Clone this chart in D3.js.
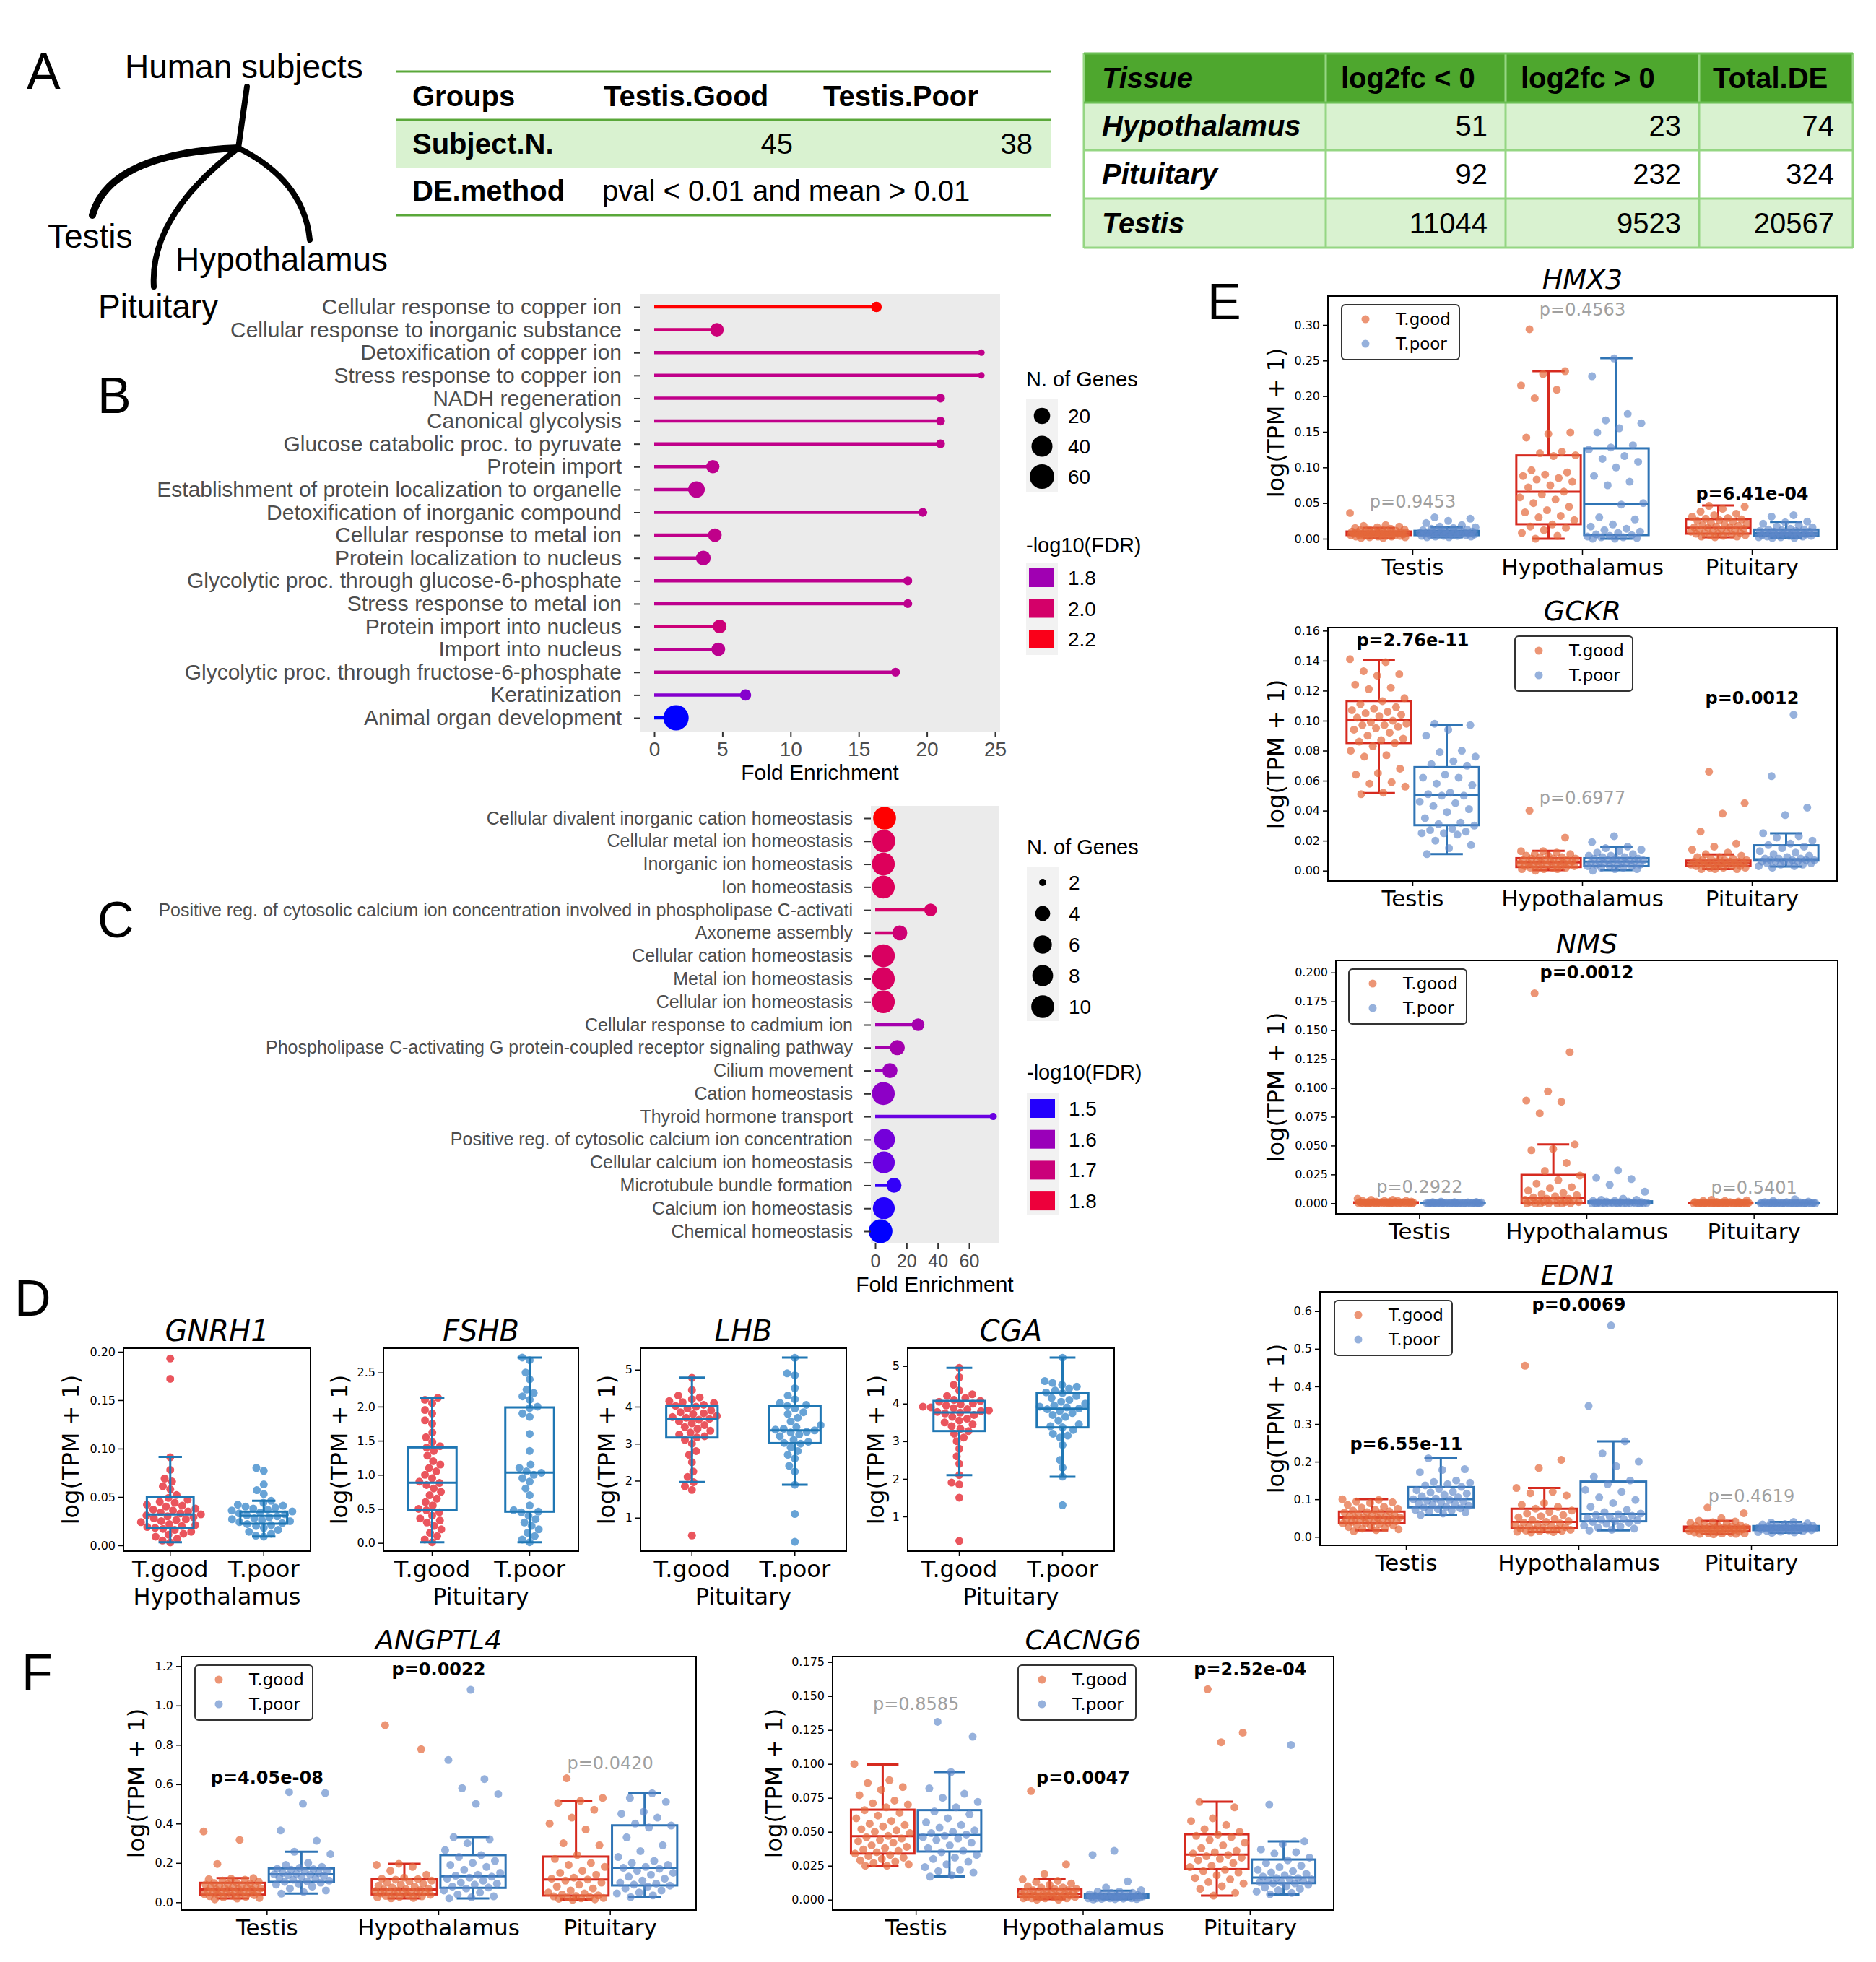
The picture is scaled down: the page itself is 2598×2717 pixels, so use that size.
<!DOCTYPE html>
<html>
<head>
<meta charset="utf-8">
<script src="https://cdn.jsdelivr.net/npm/d3@7"></script>
<style>
body { margin: 0; background: #fff; }
</style>
</head>
<body>
<script>
// ---------- data ----------
var panelLetters = ["A", "B", "C", "D", "E", "F"];

// panel A
var treeNames = ["Human subjects", "Testis", "Hypothalamus", "Pituitary"];
var groupHead = ["Groups", "Testis.Good", "Testis.Poor"];
var subjectN = [45, 38];
var deMethod = "pval < 0.01 and mean > 0.01";
var deHead = ["Tissue", "log2fc < 0", "log2fc > 0", "Total.DE"];
var deTissues = ["Hypothalamus", "Pituitary", "Testis"];
var deDown = [51, 92, 11044];
var deUp = [23, 232, 9523];
var deTotal = [74, 324, 20567];

// panel B
var bTerms = ["Cellular response to copper ion", "Cellular response to inorganic substance",
  "Detoxification of copper ion", "Stress response to copper ion", "NADH regeneration",
  "Canonical glycolysis", "Glucose catabolic proc. to pyruvate", "Protein import",
  "Establishment of protein localization to organelle", "Detoxification of inorganic compound",
  "Cellular response to metal ion", "Protein localization to nucleus",
  "Glycolytic proc. through glucose-6-phosphate", "Stress response to metal ion",
  "Protein import into nucleus", "Import into nucleus",
  "Glycolytic proc. through fructose-6-phosphate", "Keratinization", "Animal organ development"];
var bFold = [16.3, 4.6, 24.0, 24.0, 21.0, 21.0, 21.0, 4.3, 3.1, 19.7, 4.45, 3.6, 18.6, 18.6, 4.8, 4.7, 17.7, 6.7, 1.6];
var bGenes = [6, 12, 3, 3, 4, 4, 4, 11, 21, 4, 12, 15, 4, 4, 12, 12, 4, 7, 65];
var bFdr = [2.23, 1.96, 1.91, 1.91, 1.91, 1.91, 1.91, 1.9, 1.89, 1.9, 1.91, 1.89, 1.9, 1.9, 1.96, 1.89, 1.89, 1.73, 1.6];
var bTicks = [0, 5, 10, 15, 20, 25];
var bSizeBreaks = [20, 40, 60];
var bFdrBreaks = [1.8, 2.0, 2.2];

// panel C
var cTerms = ["Cellular divalent inorganic cation homeostasis", "Cellular metal ion homeostasis",
  "Inorganic ion homeostasis", "Ion homeostasis",
  "Positive reg. of cytosolic calcium ion concentration involved in phospholipase C-activati",
  "Axoneme assembly", "Cellular cation homeostasis", "Metal ion homeostasis", "Cellular ion homeostasis",
  "Cellular response to cadmium ion",
  "Phospholipase C-activating G protein-coupled receptor signaling pathway", "Cilium movement",
  "Cation homeostasis", "Thyroid hormone transport", "Positive reg. of cytosolic calcium ion concentration",
  "Cellular calcium ion homeostasis", "Microtubule bundle formation", "Calcium ion homeostasis",
  "Chemical homeostasis"];
var cFold = [6.0, 5.5, 5.2, 5.2, 35.4, 15.7, 5.2, 5.2, 5.2, 27.4, 14.1, 9.4, 5.2, 75.5, 6.0, 5.5, 12.0, 5.5, 3.4];
var cGenes = [10, 10, 10, 10, 3, 4, 10, 10, 10, 3, 4, 4, 10, 2, 8, 9, 4, 9, 11];
var cFdr = [1.86, 1.75, 1.75, 1.75, 1.73, 1.71, 1.74, 1.74, 1.74, 1.62, 1.62, 1.6, 1.58, 1.54, 1.55, 1.54, 1.505, 1.5, 1.495];
var cTicks = [0, 20, 40, 60];
var cSizeBreaks = [2, 4, 6, 8, 10];
var cFdrBreaks = [1.5, 1.6, 1.7, 1.8];

// panel D  (box stats: [low whisker, q1, median, q3, high whisker])
var dGenes = ["GNRH1", "FSHB", "LHB", "CGA"];
var dTissue = ["Hypothalamus", "Pituitary", "Pituitary", "Pituitary"];
var dGroups = ["T.good", "T.poor"];
var dTicks = [[0, 0.05, 0.1, 0.15, 0.2], [0, 0.5, 1, 1.5, 2, 2.5], [1, 2, 3, 4, 5], [1, 2, 3, 4, 5]];
var dDomain = [[-0.006, 0.2037], [-0.12, 2.857], [0.097, 5.58], [0.078, 5.474]];
var dGood = [
  [0.193,0.172,0.091,0.078,0.069,0.066,0.061,0.058,0.052,0.049,0.047,0.045,0.044,0.042,0.041,0.040,0.038,0.037,0.036,0.035,0.034,0.033,0.032,0.031,0.030,0.029,0.028,0.027,0.026,0.025,0.024,0.022,0.021,0.020,0.019,0.018,0.017,0.016,0.014,0.012,0.011,0.009,0.007,0.005,0.003],
  [2.13,2.10,2.05,1.95,1.90,1.80,1.75,1.62,1.55,1.48,1.42,1.40,1.35,1.28,1.20,1.15,1.10,1.05,1.00,0.95,0.90,0.88,0.85,0.80,0.75,0.70,0.65,0.60,0.55,0.50,0.48,0.45,0.40,0.36,0.33,0.30,0.25,0.20,0.15,0.10,0.05,0.01],
  [4.78,4.45,4.30,4.25,4.20,4.15,4.12,4.10,4.05,4.02,4.00,3.95,3.90,3.85,3.82,3.80,3.75,3.72,3.70,3.67,3.65,3.60,3.55,3.50,3.45,3.40,3.35,3.30,3.25,3.20,3.17,3.10,3.00,2.80,2.70,2.50,2.25,2.10,1.96,1.85,1.75,0.52],
  [4.95,4.70,4.50,4.35,4.25,4.20,4.15,4.10,4.07,4.05,4.00,3.98,3.95,3.92,3.90,3.88,3.85,3.82,3.80,3.78,3.76,3.74,3.70,3.65,3.60,3.55,3.50,3.45,3.40,3.33,3.27,3.20,3.10,3.00,2.80,2.60,2.40,2.10,1.90,1.85,1.50,0.35]
];
var dPoor = [
  [0.080,0.077,0.063,0.057,0.053,0.046,0.044,0.042,0.041,0.040,0.039,0.038,0.037,0.036,0.035,0.034,0.033,0.032,0.031,0.030,0.029,0.028,0.027,0.026,0.025,0.024,0.023,0.022,0.021,0.020,0.018,0.016,0.014,0.012,0.010,0.009],
  [2.72,2.68,2.50,2.40,2.25,2.20,2.15,2.10,2.00,1.98,1.90,1.85,1.60,1.35,1.15,1.10,1.05,1.03,1.00,0.95,0.90,0.80,0.70,0.55,0.48,0.46,0.45,0.40,0.35,0.30,0.25,0.20,0.15,0.10,0.05,0.01],
  [5.32,4.90,4.85,4.50,4.30,4.20,4.10,4.05,4.02,3.95,3.85,3.80,3.70,3.60,3.50,3.45,3.40,3.38,3.36,3.32,3.30,3.25,3.20,3.10,3.05,3.02,3.00,2.90,2.80,2.70,2.60,2.40,2.25,1.89,1.10,0.35],
  [5.22,4.60,4.55,4.50,4.45,4.40,4.35,4.30,4.28,4.20,4.15,4.10,4.05,4.00,3.95,3.92,3.90,3.87,3.85,3.80,3.75,3.70,3.65,3.55,3.45,3.40,3.37,3.30,3.20,3.15,3.10,2.90,2.50,2.30,2.06,1.30]
];
var dBoxGood = [[0.0032,0.0179,0.0318,0.0497,0.0914], [0.011,0.487,0.883,1.402,2.126], [1.963,3.166,3.667,4.02,4.785], [2.10,3.272,3.765,4.072,4.949]];
var dBoxPoor = [[0.0092,0.0224,0.0303,0.0348,0.046], [0.011,0.459,1.031,1.988,2.72], [1.891,3.016,3.361,4.02,5.325], [2.056,3.368,3.867,4.283,5.224]];

// panels E and F: per tissue, T.good and T.poor
var tissues = ["Testis", "Hypothalamus", "Pituitary"];

var hmx3Good = [
  [0.036,0.019,0.018,0.017,0.016,0.015,0.014,0.013,0.013,0.012,0.012,0.011,0.011,0.010,0.010,0.010,0.009,0.009,0.009,0.008,0.008,0.008,0.008,0.007,0.007,0.007,0.007,0.006,0.006,0.006,0.006,0.005,0.005,0.005,0.005,0.004,0.004,0.004,0.003,0.003,0.003,0.002,0.002,0.001,0.001],
  [0.294,0.235,0.231,0.215,0.209,0.197,0.149,0.147,0.142,0.122,0.120,0.117,0.116,0.096,0.093,0.090,0.088,0.085,0.083,0.080,0.075,0.072,0.066,0.062,0.058,0.055,0.050,0.045,0.040,0.037,0.032,0.030,0.026,0.020,0.017,0.015,0.012,0.008,0.004,0.000],
  [0.046,0.045,0.042,0.038,0.035,0.033,0.031,0.029,0.028,0.027,0.026,0.025,0.024,0.022,0.021,0.020,0.019,0.018,0.017,0.016,0.016,0.015,0.014,0.013,0.012,0.011,0.010,0.010,0.009,0.008,0.008,0.007,0.007,0.006,0.005,0.005,0.004,0.003,0.003,0.002]
];
var hmx3Poor = [
  [0.030,0.028,0.025,0.022,0.019,0.017,0.016,0.015,0.014,0.013,0.012,0.012,0.011,0.011,0.010,0.010,0.009,0.009,0.009,0.008,0.008,0.008,0.007,0.007,0.007,0.006,0.006,0.006,0.005,0.005,0.005,0.004,0.004,0.004,0.003,0.003,0.002,0.002],
  [0.253,0.228,0.175,0.166,0.162,0.155,0.149,0.131,0.128,0.125,0.116,0.112,0.108,0.100,0.088,0.080,0.075,0.050,0.048,0.030,0.027,0.020,0.017,0.014,0.012,0.010,0.008,0.006,0.005,0.004,0.003,0.002,0.002,0.001,0.000,0.000],
  [0.033,0.031,0.024,0.023,0.021,0.019,0.017,0.016,0.014,0.013,0.013,0.012,0.011,0.011,0.010,0.010,0.009,0.009,0.008,0.008,0.008,0.007,0.007,0.006,0.006,0.005,0.005,0.005,0.004,0.004,0.003,0.003,0.002,0.002,0.001,0.001]
];
var hmx3BoxGood = [[0.001,0.0051,0.0074,0.0101,0.0152], [0.0,0.0203,0.0659,0.1169,0.235], [0.002,0.0071,0.0155,0.0274,0.0466]];
var hmx3BoxPoor = [[0.002,0.005,0.0084,0.011,0.016], [0.0,0.0051,0.0483,0.1267,0.2534], [0.001,0.0044,0.0078,0.0128,0.0236]];
var hmx3P = ["p=0.9453", "p=0.4563", "p=6.41e-04"];
var hmx3Sig = [0, 0, 1];
var hmx3PY = [0.0435, 0.313, 0.055];
var hmx3Ticks = [0, 0.05, 0.1, 0.15, 0.2, 0.25, 0.3];
var hmx3Domain = [-0.0152, 0.3405];

var gckrGood = [
  [0.141,0.139,0.133,0.131,0.130,0.124,0.122,0.121,0.115,0.113,0.111,0.109,0.108,0.107,0.106,0.105,0.104,0.103,0.102,0.100,0.099,0.098,0.097,0.097,0.096,0.095,0.094,0.092,0.090,0.088,0.087,0.086,0.085,0.083,0.080,0.077,0.076,0.068,0.065,0.064,0.059,0.058,0.056,0.052,0.051],
  [0.040,0.022,0.013,0.013,0.012,0.011,0.011,0.010,0.010,0.009,0.009,0.008,0.008,0.008,0.007,0.007,0.007,0.006,0.006,0.006,0.006,0.005,0.005,0.005,0.005,0.004,0.004,0.004,0.004,0.003,0.003,0.003,0.003,0.002,0.002,0.002,0.001,0.001,0.001,0.000],
  [0.066,0.045,0.038,0.026,0.018,0.016,0.014,0.012,0.011,0.010,0.009,0.009,0.008,0.008,0.007,0.007,0.007,0.006,0.006,0.006,0.006,0.005,0.005,0.005,0.005,0.005,0.004,0.004,0.004,0.004,0.003,0.003,0.003,0.003,0.002,0.002,0.002,0.001,0.001,0.001]
];
var gckrPoor = [
  [0.098,0.097,0.094,0.090,0.080,0.079,0.076,0.073,0.071,0.070,0.064,0.062,0.062,0.058,0.057,0.052,0.051,0.050,0.050,0.046,0.045,0.043,0.041,0.039,0.035,0.032,0.031,0.030,0.028,0.027,0.026,0.025,0.025,0.024,0.020,0.017,0.015,0.011],
  [0.023,0.019,0.016,0.015,0.014,0.013,0.012,0.011,0.010,0.010,0.009,0.009,0.008,0.008,0.008,0.007,0.007,0.007,0.006,0.006,0.006,0.006,0.005,0.005,0.005,0.004,0.004,0.004,0.003,0.003,0.003,0.002,0.002,0.001,0.001,0.000],
  [0.104,0.063,0.042,0.037,0.025,0.023,0.022,0.020,0.018,0.017,0.016,0.015,0.013,0.012,0.011,0.010,0.009,0.008,0.008,0.008,0.007,0.007,0.007,0.007,0.006,0.006,0.006,0.006,0.005,0.005,0.005,0.004,0.004,0.003,0.003,0.002]
];
var gckrBoxGood = [[0.0517,0.0851,0.1003,0.1131,0.1403], [0.0003,0.0024,0.0055,0.0083,0.0132], [0.0011,0.0032,0.0051,0.0067,0.0108]];
var gckrBoxPoor = [[0.011,0.0303,0.0506,0.069,0.0973], [0.0003,0.003,0.006,0.0083,0.0156], [0.0027,0.0067,0.0075,0.0169,0.0249]];
var gckrP = ["p=2.76e-11", "p=0.6977", "p=0.0012"];
var gckrSig = [1, 0, 1];
var gckrPY = [0.1496, 0.0446, 0.111];
var gckrTicks = [0, 0.02, 0.04, 0.06, 0.08, 0.1, 0.12, 0.14, 0.16];
var gckrDomain = [-0.0069, 0.1621];

var nmsGood = [
  [0.004,0.003,0.003,0.002,0.002,0.002,0.002,0.0015,0.0015,0.0013,0.0012,0.001,0.001,0.001,0.001,0.0009,0.0008,0.0008,0.0007,0.0007,0.0006,0.0006,0.0005,0.0005,0.0005,0.0004,0.0004,0.0004,0.0003,0.0003,0.0003,0.0002,0.0002,0.0002,0.0002,0.0001,0.0001,0.0001,0.0001,0,0,0,0,0,0],
  [0.182,0.131,0.097,0.089,0.088,0.078,0.051,0.047,0.046,0.035,0.028,0.024,0.020,0.017,0.014,0.013,0.011,0.009,0.008,0.007,0.006,0.005,0.004,0.004,0.003,0.003,0.002,0.002,0.002,0.001,0.001,0.001,0.001,0,0,0,0,0,0,0],
  [0.003,0.0025,0.002,0.002,0.0015,0.0012,0.001,0.001,0.0008,0.0007,0.0006,0.0005,0.0005,0.0004,0.0004,0.0003,0.0003,0.0003,0.0002,0.0002,0.0002,0.0001,0.0001,0.0001,0,0,0,0,0,0,0,0,0,0,0,0,0,0,0,0]
];
var nmsPoor = [
  [0.0015,0.0012,0.001,0.001,0.0008,0.0007,0.0006,0.0005,0.0005,0.0004,0.0004,0.0003,0.0003,0.0003,0.0002,0.0002,0.0002,0.0002,0.0001,0.0001,0.0001,0.0001,0.0001,0,0,0,0,0,0,0,0,0,0,0,0,0,0,0],
  [0.0285,0.022,0.021,0.016,0.010,0.004,0.003,0.003,0.002,0.002,0.0015,0.0015,0.001,0.001,0.001,0.0008,0.0006,0.0005,0.0005,0.0004,0.0003,0.0003,0.0002,0.0002,0.0001,0.0001,0,0,0,0,0,0,0,0,0,0],
  [0.0035,0.002,0.0015,0.001,0.001,0.0008,0.0006,0.0005,0.0004,0.0003,0.0003,0.0002,0.0002,0.0001,0.0001,0.0001,0,0,0,0,0,0,0,0,0,0,0,0,0,0,0,0,0,0,0,0]
];
var nmsBoxGood = [[0,0,0.0003,0.0008,0.0015], [0,0,0.0042,0.0246,0.0511], [0,0,0,0.0003,0.0008]];
var nmsBoxPoor = [[0,0,0,0.0002,0.0005], [0,0,0.0005,0.0017,0.002], [0,0,0,0.0002,0.0005]];
var nmsP = ["p=0.2922", "p=0.0012", "p=0.5401"];
var nmsSig = [0, 1, 0];
var nmsPY = [0.0088, 0.1948, 0.0081];
var nmsTicks = [0, 0.025, 0.05, 0.075, 0.1, 0.125, 0.15, 0.175, 0.2];
var nmsDomain = [-0.0092, 0.2105];

var edn1Good = [
  [0.100,0.098,0.094,0.092,0.090,0.085,0.080,0.078,0.075,0.072,0.070,0.068,0.066,0.065,0.063,0.061,0.059,0.058,0.056,0.055,0.053,0.052,0.051,0.050,0.049,0.048,0.046,0.045,0.044,0.042,0.041,0.040,0.038,0.037,0.036,0.034,0.032,0.030,0.028,0.026,0.024,0.022,0.020,0.018,0.015],
  [0.455,0.205,0.183,0.130,0.120,0.116,0.110,0.090,0.085,0.080,0.075,0.070,0.066,0.062,0.058,0.055,0.052,0.048,0.045,0.042,0.040,0.038,0.036,0.034,0.032,0.030,0.028,0.026,0.024,0.022,0.021,0.020,0.019,0.018,0.017,0.016,0.015,0.014,0.013,0.012],
  [0.078,0.063,0.050,0.043,0.041,0.039,0.037,0.035,0.033,0.031,0.030,0.029,0.028,0.027,0.026,0.025,0.024,0.024,0.023,0.022,0.022,0.021,0.020,0.019,0.019,0.018,0.017,0.016,0.016,0.015,0.014,0.013,0.012,0.011,0.010,0.009,0.009,0.008,0.008,0.007]
];
var edn1Poor = [
  [0.209,0.180,0.178,0.172,0.150,0.146,0.144,0.140,0.137,0.133,0.128,0.124,0.120,0.118,0.115,0.112,0.108,0.105,0.102,0.100,0.098,0.096,0.094,0.092,0.090,0.088,0.086,0.083,0.080,0.078,0.076,0.074,0.072,0.070,0.068,0.065,0.062,0.058],
  [0.562,0.348,0.254,0.222,0.200,0.188,0.160,0.150,0.140,0.125,0.120,0.105,0.098,0.090,0.080,0.072,0.066,0.062,0.060,0.058,0.056,0.054,0.050,0.048,0.046,0.044,0.042,0.040,0.038,0.035,0.030,0.028,0.025,0.022,0.019,0.017],
  [0.040,0.038,0.036,0.034,0.033,0.032,0.031,0.030,0.029,0.028,0.028,0.027,0.026,0.026,0.025,0.025,0.024,0.024,0.023,0.023,0.022,0.022,0.021,0.021,0.020,0.020,0.019,0.018,0.018,0.017,0.016,0.015,0.014,0.013,0.012,0.011]
];
var edn1BoxGood = [[0.0173,0.0371,0.0512,0.0672,0.1004], [0.0128,0.0237,0.0397,0.0749,0.1299], [0.0077,0.0147,0.0224,0.0275,0.0429]];
var edn1BoxPoor = [[0.0576,0.0787,0.1004,0.1324,0.2092], [0.0173,0.0416,0.0608,0.1472,0.254], [0.0109,0.0179,0.0237,0.0288,0.0397]];
var edn1P = ["p=6.55e-11", "p=0.0069", "p=0.4619"];
var edn1Sig = [1, 1, 0];
var edn1PY = [0.231, 0.601, 0.0927];
var edn1Ticks = [0, 0.1, 0.2, 0.3, 0.4, 0.5, 0.6];
var edn1Domain = [-0.0225, 0.6513];

var angptl4Good = [
  [0.360,0.317,0.195,0.123,0.120,0.118,0.115,0.110,0.105,0.100,0.098,0.095,0.092,0.090,0.087,0.085,0.082,0.080,0.077,0.075,0.072,0.070,0.067,0.065,0.063,0.061,0.059,0.057,0.055,0.052,0.050,0.048,0.046,0.044,0.042,0.040,0.038,0.036,0.034,0.031,0.028,0.025,0.022,0.019,0.015],
  [0.900,0.778,0.196,0.190,0.180,0.160,0.140,0.125,0.120,0.118,0.115,0.110,0.105,0.100,0.095,0.090,0.085,0.080,0.075,0.070,0.067,0.065,0.062,0.060,0.057,0.055,0.052,0.050,0.047,0.045,0.042,0.040,0.038,0.035,0.032,0.030,0.027,0.025,0.022,0.020],
  [0.630,0.530,0.515,0.505,0.470,0.430,0.400,0.370,0.300,0.290,0.240,0.220,0.200,0.190,0.180,0.160,0.150,0.140,0.125,0.120,0.116,0.110,0.100,0.090,0.080,0.070,0.060,0.050,0.045,0.040,0.035,0.032,0.030,0.027,0.025,0.022,0.020,0.018,0.015,0.013]
];
var angptl4Poor = [
  [0.560,0.555,0.500,0.365,0.313,0.257,0.245,0.200,0.190,0.180,0.175,0.170,0.168,0.165,0.160,0.155,0.150,0.148,0.145,0.142,0.140,0.138,0.135,0.130,0.125,0.120,0.115,0.110,0.107,0.104,0.100,0.095,0.090,0.080,0.070,0.060,0.052,0.044],
  [1.080,0.723,0.626,0.580,0.550,0.500,0.331,0.320,0.300,0.265,0.240,0.230,0.210,0.200,0.190,0.180,0.165,0.150,0.140,0.135,0.130,0.125,0.120,0.110,0.100,0.095,0.090,0.080,0.075,0.070,0.060,0.050,0.040,0.030,0.025,0.020],
  [0.554,0.530,0.510,0.460,0.450,0.430,0.400,0.390,0.380,0.330,0.290,0.260,0.230,0.210,0.200,0.190,0.180,0.175,0.170,0.160,0.150,0.140,0.130,0.120,0.110,0.100,0.095,0.090,0.085,0.080,0.070,0.060,0.050,0.045,0.035,0.026]
];
var angptl4BoxGood = [[0.0196,0.039,0.065,0.099,0.1235], [0.0196,0.040,0.065,0.12,0.196], [0.0135,0.0343,0.1162,0.2324,0.515]];
var angptl4BoxPoor = [[0.044,0.104,0.142,0.1725,0.257], [0.0196,0.0734,0.132,0.2398,0.3315], [0.0257,0.0856,0.175,0.391,0.554]];
var angptl4P = ["p=4.05e-08", "p=0.0022", "p=0.0420"];
var angptl4Sig = [1, 1, 0];
var angptl4PY = [0.603, 1.153, 0.676];
var angptl4Ticks = [0, 0.2, 0.4, 0.6, 0.8, 1.0, 1.2];
var angptl4Domain = [-0.0393, 1.2488];

var cacng6Good = [
  [0.100,0.088,0.086,0.083,0.081,0.077,0.073,0.071,0.070,0.068,0.066,0.064,0.062,0.060,0.058,0.056,0.055,0.054,0.052,0.051,0.050,0.049,0.047,0.046,0.045,0.044,0.043,0.042,0.040,0.039,0.038,0.037,0.036,0.035,0.034,0.033,0.032,0.031,0.030,0.029,0.028,0.027,0.026,0.025,0.025],
  [0.080,0.026,0.019,0.015,0.014,0.013,0.012,0.011,0.010,0.009,0.009,0.008,0.008,0.007,0.007,0.006,0.006,0.006,0.005,0.005,0.005,0.004,0.004,0.004,0.004,0.003,0.003,0.003,0.003,0.002,0.002,0.002,0.002,0.002,0.001,0.001,0.001,0.001,0.000,0.000],
  [0.155,0.123,0.116,0.072,0.068,0.060,0.058,0.055,0.052,0.050,0.048,0.047,0.046,0.044,0.042,0.040,0.038,0.036,0.035,0.034,0.033,0.032,0.031,0.030,0.029,0.027,0.025,0.024,0.022,0.021,0.020,0.018,0.016,0.015,0.013,0.012,0.010,0.008,0.005,0.003]
];
var cacng6Poor = [
  [0.131,0.120,0.094,0.082,0.078,0.075,0.072,0.068,0.065,0.063,0.060,0.057,0.055,0.053,0.051,0.050,0.049,0.048,0.047,0.046,0.045,0.044,0.042,0.040,0.038,0.036,0.035,0.033,0.031,0.030,0.028,0.026,0.024,0.022,0.021,0.020,0.018,0.017],
  [0.036,0.033,0.0135,0.009,0.007,0.006,0.006,0.005,0.005,0.004,0.004,0.004,0.0035,0.003,0.003,0.003,0.003,0.0025,0.0025,0.0025,0.002,0.002,0.002,0.002,0.0015,0.0015,0.0015,0.001,0.001,0.001,0.001,0.0008,0.0006,0.0005,0.0004,0.0002],
  [0.114,0.070,0.043,0.041,0.037,0.035,0.034,0.031,0.029,0.027,0.025,0.024,0.022,0.021,0.020,0.019,0.018,0.017,0.016,0.016,0.015,0.015,0.014,0.014,0.013,0.013,0.012,0.012,0.011,0.010,0.009,0.008,0.007,0.006,0.005,0.004]
];
var cacng6BoxGood = [[0.0248,0.034,0.0468,0.0663,0.0996], [0.0004,0.0021,0.0043,0.0078,0.0154], [0.003,0.0225,0.0332,0.0482,0.0722]];
var cacng6BoxPoor = [[0.0172,0.0355,0.0477,0.066,0.094], [0.0004,0.0012,0.0025,0.0039,0.0066], [0.0039,0.0122,0.0163,0.0296,0.0429]];
var cacng6P = ["p=0.8585", "p=0.0047", "p=2.52e-04"];
var cacng6Sig = [0, 1, 1];
var cacng6PY = [0.1397, 0.0855, 0.1653];
var cacng6Ticks = [0, 0.025, 0.05, 0.075, 0.1, 0.125, 0.15, 0.175];
var cacng6Domain = [-0.0076, 0.1791];

// ---------- drawing ----------
var SANS = "'Liberation Sans', Arial, Helvetica, sans-serif";
var MPL = "'DejaVu Sans', sans-serif";

var svg = d3.select("body").append("svg")
  .attr("width", 2598).attr("height", 2717)
  .style("display", "block")
  .style("font-family", SANS);
svg.append("rect").attr("width", 2598).attr("height", 2717).attr("fill", "#fff");

// panel letters
var letterPos = [[37, 123], [135, 572], [135, 1298], [20, 1822], [1672, 442], [30, 2340]];
svg.selectAll("text.letter").data(panelLetters).enter().append("text")
  .attr("x", function(d, i) { return letterPos[i][0]; })
  .attr("y", function(d, i) { return letterPos[i][1]; })
  .attr("font-size", 70)
  .text(function(d) { return d; });

// ---- panel A: tree ----
function quad(x0, y0, cx, cy, x1, y1) {
  var p = d3.path();
  p.moveTo(x0, y0);
  p.quadraticCurveTo(cx, cy, x1, y1);
  return p.toString();
}
var tree = svg.append("g").attr("fill", "none").attr("stroke", "#000")
  .attr("stroke-width", 8).attr("stroke-linecap", "round");
tree.append("path").attr("d", quad(342, 120, 336, 162, 330, 205));
tree.append("path").attr("d", quad(330, 205, 152, 212, 128, 298)).attr("stroke-width", 10);
tree.append("path").attr("d", quad(330, 205, 207, 299, 213, 397));
tree.append("path").attr("d", quad(330, 205, 421, 250, 429, 332));

var treePos = [[173, 108], [66, 343], [243, 375], [136, 440]];
svg.selectAll("text.tree").data(treeNames).enter().append("text")
  .attr("x", function(d, i) { return treePos[i][0]; })
  .attr("y", function(d, i) { return treePos[i][1]; })
  .attr("font-size", 46)
  .text(function(d) { return d; });

// ---- panel A: groups table ----
var t1 = svg.append("g").attr("font-size", 40);
t1.append("rect").attr("x", 549).attr("y", 166).attr("width", 907).attr("height", 66).attr("fill", "#d9f2d0");
[99, 166, 298].forEach(function(y) {
  t1.append("line").attr("x1", 549).attr("x2", 1456).attr("y1", y).attr("y2", y)
    .attr("stroke", "#5aa83a").attr("stroke-width", 3);
});
var t1x = [571, 836, 1140];
groupHead.forEach(function(h, i) {
  t1.append("text").attr("x", t1x[i]).attr("y", 147).attr("font-weight", 700).text(h);
});
t1.append("text").attr("x", 571).attr("y", 213).attr("font-weight", 700).text("Subject.N.");
var t1r = [1098, 1430];
subjectN.forEach(function(n, i) {
  t1.append("text").attr("x", t1r[i]).attr("y", 213).attr("text-anchor", "end").text(n);
});
t1.append("text").attr("x", 571).attr("y", 278).attr("font-weight", 700).text("DE.method");
t1.append("text").attr("x", 834).attr("y", 278).text(deMethod);

// ---- panel A: DE table ----
var t2 = svg.append("g").attr("font-size", 40);
var colX = [1501, 1836, 2085, 2353, 2566];
var rowY = [74, 142, 208, 275, 343];
var rowFill = ["#4ea72e", "#d9f2d0", "#ffffff", "#d9f2d0"];
rowFill.forEach(function(f, i) {
  t2.append("rect").attr("x", colX[0]).attr("y", rowY[i]).attr("width", colX[4] - colX[0])
    .attr("height", rowY[i + 1] - rowY[i]).attr("fill", f);
});
colX.forEach(function(x) {
  t2.append("line").attr("x1", x).attr("x2", x).attr("y1", rowY[0]).attr("y2", rowY[4])
    .attr("stroke", "#95d683").attr("stroke-width", 3);
});
rowY.forEach(function(y, i) {
  t2.append("line").attr("x1", colX[0]).attr("x2", colX[4]).attr("y1", y).attr("y2", y)
    .attr("stroke", i < 2 ? "#6cbf55" : "#95d683").attr("stroke-width", 3);
});
var headX = [1526, 1857, 2106, 2372];
deHead.forEach(function(h, i) {
  t2.append("text").attr("x", headX[i]).attr("y", 122).attr("font-weight", 700)
    .attr("font-style", i === 0 ? "italic" : "normal").text(h);
});
var rowBase = [188, 255, 323];
var numRight = [2060, 2328, 2540];
deTissues.forEach(function(t, i) {
  t2.append("text").attr("x", 1526).attr("y", rowBase[i]).attr("font-weight", 700)
    .attr("font-style", "italic").text(t);
  [deDown[i], deUp[i], deTotal[i]].forEach(function(v, j) {
    t2.append("text").attr("x", numRight[j]).attr("y", rowBase[i]).attr("text-anchor", "end").text(v);
  });
});

// ---- panels B and C: lollipop charts ----
function lollipop(c) {
  var g = svg.append("g");
  var y = d3.scalePoint().domain(c.terms).range([c.rowTop, c.rowBot]);
  var x = d3.scaleLinear().domain(c.xDomain).range([c.x0, c.x1]);
  var t = d3.scaleLinear().domain([c.gMin, c.gMax]).range([0, 1]).clamp(true);
  var rad = function(v) { return c.rMin + (c.rMax - c.rMin) * Math.sqrt(t(v)); };
  var col = d3.scaleLinear().domain(c.fdrDomain).range(["#0000ff", "#ff0000"])
    .interpolate(d3.interpolateLab).clamp(true);
  var rows = c.terms.map(function(d, i) {
    return { term: d, fold: c.fold[i], n: c.genes[i], fdr: c.fdr[i] };
  });

  g.append("rect").attr("x", c.bg[0]).attr("y", c.bg[1])
    .attr("width", c.bg[2] - c.bg[0]).attr("height", c.bg[3] - c.bg[1]).attr("fill", "#ebebeb");

  g.selectAll("line.stem").data(rows).enter().append("line")
    .attr("x1", x(0)).attr("x2", function(d) { return x(d.fold); })
    .attr("y1", function(d) { return y(d.term); }).attr("y2", function(d) { return y(d.term); })
    .attr("stroke", function(d) { return col(d.fdr); }).attr("stroke-width", c.lw);
  g.selectAll("circle.dot").data(rows).enter().append("circle")
    .attr("cx", function(d) { return x(d.fold); })
    .attr("cy", function(d) { return y(d.term); })
    .attr("r", function(d) { return rad(d.n); })
    .attr("fill", function(d) { return col(d.fdr); });

  var ya = g.append("g").attr("transform", "translate(" + c.bg[0] + ",0)")
    .call(d3.axisLeft(y).tickSize(c.tick).tickPadding(c.pad));
  ya.attr("font-family", SANS).attr("font-size", c.fs);
  ya.select(".domain").remove();
  ya.selectAll(".tick line").attr("stroke", "#333").attr("stroke-width", 2);
  ya.selectAll(".tick text").attr("fill", "#4d4d4d");

  var xa = g.append("g").attr("transform", "translate(0," + c.bg[3] + ")")
    .call(d3.axisBottom(x).tickValues(c.xTicks).tickSize(7).tickPadding(c.xpad));
  xa.attr("font-family", SANS).attr("font-size", c.xfs);
  xa.select(".domain").remove();
  xa.selectAll(".tick line").attr("stroke", "#333").attr("stroke-width", 2);
  xa.selectAll(".tick text").attr("fill", "#4d4d4d");

  g.append("text").attr("x", (c.bg[0] + c.bg[2]) / 2).attr("y", c.xTitleY)
    .attr("text-anchor", "middle").attr("font-size", 30).text("Fold Enrichment");

  // legends
  var L = c.legend;
  g.append("text").attr("x", L.x).attr("y", L.sizeTitle).attr("font-size", 29).text("N. of Genes");
  g.append("rect").attr("x", L.x).attr("y", L.sizeBg[0]).attr("width", 44)
    .attr("height", L.sizeBg[1] - L.sizeBg[0]).attr("fill", "#f2f2f2");
  c.sizeBreaks.forEach(function(v, i) {
    var cy = L.sizeY0 + i * L.sizeStep;
    g.append("circle").attr("cx", L.x + 22).attr("cy", cy).attr("r", rad(v)).attr("fill", "#000");
    g.append("text").attr("x", L.x + 58).attr("y", cy).attr("dy", "0.36em")
      .attr("font-size", 28).text(v);
  });
  g.append("text").attr("x", L.x).attr("y", L.fdrTitle).attr("font-size", 29).text("-log10(FDR)");
  g.append("rect").attr("x", L.x).attr("y", L.fdrBg[0]).attr("width", 44)
    .attr("height", L.fdrBg[1] - L.fdrBg[0]).attr("fill", "#f2f2f2");
  c.fdrBreaks.forEach(function(v, i) {
    var cy = L.fdrY0 + i * L.fdrStep;
    g.append("rect").attr("x", L.x + 4).attr("y", cy - 13).attr("width", 35).attr("height", 26)
      .attr("fill", col(v));
    g.append("text").attr("x", L.x + 58).attr("y", cy).attr("dy", "0.36em")
      .attr("font-size", 28).text(d3.format(".1f")(v));
  });
}

lollipop({
  terms: bTerms, fold: bFold, genes: bGenes, fdr: bFdr, xTicks: bTicks,
  sizeBreaks: bSizeBreaks, fdrBreaks: bFdrBreaks,
  xDomain: [0, 25], x0: 906, x1: 1378, rowTop: 425, rowBot: 994,
  bg: [886, 407, 1385, 1014], gMin: 3, gMax: 65, rMin: 4.5, rMax: 17.5,
  fdrDomain: [1.6, 2.23], lw: 4.5, tick: 8, pad: 17, fs: 30, xfs: 28, xpad: 6, xTitleY: 1080,
  legend: { x: 1421, sizeTitle: 535, sizeBg: [553, 682], sizeY0: 576, sizeStep: 42,
            fdrTitle: 765, fdrBg: [780, 907], fdrY0: 800, fdrStep: 42.5 }
});

lollipop({
  terms: cTerms, fold: cFold, genes: cGenes, fdr: cFdr, xTicks: cTicks,
  sizeBreaks: cSizeBreaks, fdrBreaks: cFdrBreaks,
  xDomain: [0, 60], x0: 1212, x1: 1342, rowTop: 1133, rowBot: 1705,
  bg: [1206, 1116, 1383, 1722], gMin: 2, gMax: 11, rMin: 5, rMax: 16.5,
  fdrDomain: [1.495, 1.86], lw: 4.5, tick: 9, pad: 16, fs: 25, xfs: 25, xpad: 8, xTitleY: 1789,
  legend: { x: 1422, sizeTitle: 1183, sizeBg: [1201, 1414], sizeY0: 1222, sizeStep: 43,
            fdrTitle: 1495, fdrBg: [1513, 1683], fdrY0: 1535, fdrStep: 42.7 }
});

// ---- shared matplotlib-style helpers ----
function drawBox(g, s, cx, bw, y, color, lw) {
  var b = g.append("g").attr("stroke", color).attr("stroke-width", lw).attr("fill", "none");
  b.append("line").attr("x1", cx).attr("x2", cx).attr("y1", y(s[3])).attr("y2", y(s[4]));
  b.append("line").attr("x1", cx).attr("x2", cx).attr("y1", y(s[1])).attr("y2", y(s[0]));
  b.append("line").attr("x1", cx - bw / 4).attr("x2", cx + bw / 4).attr("y1", y(s[4])).attr("y2", y(s[4]));
  b.append("line").attr("x1", cx - bw / 4).attr("x2", cx + bw / 4).attr("y1", y(s[0])).attr("y2", y(s[0]));
  b.append("rect").attr("x", cx - bw / 2).attr("y", y(s[3])).attr("width", bw)
    .attr("height", Math.max(0.5, y(s[1]) - y(s[3])));
  b.append("line").attr("x1", cx - bw / 2).attr("x2", cx + bw / 2).attr("y1", y(s[2])).attr("y2", y(s[2]));
}

function frameAndAxes(g, c, x, y, xfs) {
  g.append("rect").attr("x", c.l).attr("y", c.t).attr("width", c.r - c.l).attr("height", c.b - c.t)
    .attr("fill", "none").attr("stroke", "#000").attr("stroke-width", 2);
  var ya = g.append("g").attr("transform", "translate(" + c.l + ",0)")
    .call(d3.axisLeft(y).tickValues(c.ticks).tickFormat(d3.format(c.fmt)).tickSize(7).tickPadding(4));
  ya.attr("font-family", MPL).attr("font-size", 16);
  ya.select(".domain").remove();
  ya.selectAll(".tick line").attr("stroke", "#000").attr("stroke-width", 1.5);
  ya.selectAll(".tick text").attr("fill", "#000");
  var xa = g.append("g").attr("transform", "translate(0," + c.b + ")")
    .call(d3.axisBottom(x).tickSize(7).tickPadding(6));
  xa.attr("font-family", MPL).attr("font-size", xfs);
  xa.select(".domain").remove();
  xa.selectAll(".tick line").attr("stroke", "#000").attr("stroke-width", 1.5);
  xa.selectAll(".tick text").attr("fill", "#000");
  g.append("text").attr("transform", "translate(" + c.ylx + "," + (c.t + c.b) / 2 + ") rotate(-90)")
    .attr("dy", "0.35em").attr("text-anchor", "middle").attr("font-family", MPL)
    .attr("font-size", 32).text("log(TPM + 1)");
  g.append("text").attr("x", (c.l + c.r) / 2).attr("y", c.t - 10).attr("text-anchor", "middle")
    .attr("font-family", MPL).attr("font-style", "italic").attr("font-size", c.tfs).text(c.gene);
}

// beeswarm placement (horizontal offsets only)
function swarm(values, y, r) {
  var pts = values.map(function(v) { return { v: v, y: y(v), dx: 0 }; })
    .sort(function(a, b) { return b.y - a.y; });
  var placed = [];
  pts.forEach(function(p) {
    var iv = [];
    placed.forEach(function(q) {
      var dy = Math.abs(q.y - p.y);
      if (dy < 2 * r) {
        var w = Math.sqrt(4 * r * r - dy * dy);
        iv.push([q.dx - w, q.dx + w]);
      }
    });
    var cands = [0];
    iv.forEach(function(a) { cands.push(a[0], a[1]); });
    cands.sort(function(a, b) { return Math.abs(a) - Math.abs(b); });
    for (var k = 0; k < cands.length; k++) {
      var cc = cands[k];
      var ok = iv.every(function(a) { return cc <= a[0] + 1e-6 || cc >= a[1] - 1e-6; });
      if (ok) { p.dx = cc; break; }
    }
    placed.push(p);
  });
  return placed;
}

// ---- panel D ----
var dLayout = [
  { l: 171, r: 430, ylx: 98 }, { l: 531, r: 801, ylx: 470 },
  { l: 887, r: 1172, ylx: 840 }, { l: 1257, r: 1543, ylx: 1213 }
];
var dFmt = [".2f", ".1f", "d", "d"];
dGenes.forEach(function(gene, k) {
  var c = { l: dLayout[k].l, r: dLayout[k].r, t: 1867, b: 2148, ylx: dLayout[k].ylx,
            ticks: dTicks[k], fmt: dFmt[k], gene: gene, tfs: 40 };
  var g = svg.append("g");
  var x = d3.scaleBand().domain(dGroups).range([c.l, c.r]);
  var u = x.bandwidth();
  var y = d3.scaleLinear().domain(dDomain[k]).range([c.b, c.t]);
  [dGood[k], dPoor[k]].forEach(function(vals, h) {
    var cx = x(dGroups[h]) + u / 2;
    swarm(vals, y, 5.5).forEach(function(p) {
      g.append("circle").attr("cx", cx + p.dx).attr("cy", p.y).attr("r", 5.5)
        .attr("fill", h === 0 ? "#e8464f" : "#5a9bd3").attr("opacity", 0.92);
    });
  });
  [dBoxGood[k], dBoxPoor[k]].forEach(function(s, h) {
    drawBox(g, s, x(dGroups[h]) + u / 2, 0.5 * u, y, "#1f77b4", 3);
  });
  frameAndAxes(g, c, x, y, 32);
  g.append("text").attr("x", (c.l + c.r) / 2).attr("y", 2222).attr("text-anchor", "middle")
    .attr("font-family", MPL).attr("font-size", 32).text(dTissue[k]);
});

// ---- panels E and F ----
function tissueChart(c) {
  var g = svg.append("g");
  var x = d3.scaleBand().domain(tissues).range([c.l, c.r]);
  var u = x.bandwidth();
  var y = d3.scaleLinear().domain(c.domain).range([c.b, c.t]);
  var boxCol = ["#d62a1f", "#2f74b5"];
  var ptCol = ["#e4683a", "#5d87c9"];
  var ptOp = [0.7, 0.65];
  [c.boxGood, c.boxPoor].forEach(function(boxes, h) {
    boxes.forEach(function(s, i) {
      var cx = x(tissues[i]) + u / 2 + (h === 0 ? -0.2 : 0.2) * u;
      drawBox(g, s, cx, 0.38 * u, y, boxCol[h], 3);
    });
  });
  [c.good, c.poor].forEach(function(sets, h) {
    sets.forEach(function(vals, i) {
      var cx = x(tissues[i]) + u / 2 + (h === 0 ? -0.2 : 0.2) * u;
      vals.forEach(function(v, j) {
        var f = (j * 0.6180339887 + h * 0.29 + i * 0.17) % 1;
        g.append("circle").attr("cx", cx + (f - 0.5) * 0.34 * u).attr("cy", y(v)).attr("r", 5.5)
          .attr("fill", ptCol[h]).attr("opacity", ptOp[h]);
      });
    });
  });
  frameAndAxes(g, c, x, y, 31);
  // p-values
  c.pText.forEach(function(p, i) {
    g.append("text").attr("x", x(tissues[i]) + u / 2).attr("y", y(c.pY[i]))
      .attr("text-anchor", "middle").attr("font-family", MPL).attr("font-size", 24)
      .attr("font-weight", c.sig[i] ? 700 : 400).attr("fill", c.sig[i] ? "#000" : "#a0a0a0")
      .text(p);
  });
  // legend
  var lg = g.append("g").attr("transform", "translate(" + c.leg[0] + "," + c.leg[1] + ")");
  lg.append("rect").attr("width", 163).attr("height", 76).attr("rx", 5)
    .attr("fill", "#fff").attr("fill-opacity", 0.8).attr("stroke", "#333").attr("stroke-width", 2);
  ["T.good", "T.poor"].forEach(function(lbl, h) {
    lg.append("circle").attr("cx", 33).attr("cy", 20 + h * 34).attr("r", 5.5)
      .attr("fill", ptCol[h]).attr("opacity", ptOp[h]);
    lg.append("text").attr("x", 75).attr("y", 20 + h * 34).attr("dy", "0.35em")
      .attr("font-family", MPL).attr("font-size", 23).text(lbl);
  });
}

tissueChart({ gene: "HMX3", good: hmx3Good, poor: hmx3Poor, boxGood: hmx3BoxGood, boxPoor: hmx3BoxPoor,
  pText: hmx3P, sig: hmx3Sig, pY: hmx3PY, ticks: hmx3Ticks, domain: hmx3Domain, fmt: ".2f",
  l: 1839, r: 2544, t: 410, b: 761, ylx: 1767, leg: [1858, 422], tfs: 38 });
tissueChart({ gene: "GCKR", good: gckrGood, poor: gckrPoor, boxGood: gckrBoxGood, boxPoor: gckrBoxPoor,
  pText: gckrP, sig: gckrSig, pY: gckrPY, ticks: gckrTicks, domain: gckrDomain, fmt: ".2f",
  l: 1839, r: 2544, t: 869, b: 1220, ylx: 1767, leg: [2098, 881], tfs: 38 });
tissueChart({ gene: "NMS", good: nmsGood, poor: nmsPoor, boxGood: nmsBoxGood, boxPoor: nmsBoxPoor,
  pText: nmsP, sig: nmsSig, pY: nmsPY, ticks: nmsTicks, domain: nmsDomain, fmt: ".3f",
  l: 1850, r: 2545, t: 1330, b: 1681, ylx: 1767, leg: [1868, 1342], tfs: 38 });
tissueChart({ gene: "EDN1", good: edn1Good, poor: edn1Poor, boxGood: edn1BoxGood, boxPoor: edn1BoxPoor,
  pText: edn1P, sig: edn1Sig, pY: edn1PY, ticks: edn1Ticks, domain: edn1Domain, fmt: ".1f",
  l: 1828, r: 2545, t: 1789, b: 2140, ylx: 1767, leg: [1848, 1801], tfs: 38 });
tissueChart({ gene: "ANGPTL4", good: angptl4Good, poor: angptl4Poor, boxGood: angptl4BoxGood, boxPoor: angptl4BoxPoor,
  pText: angptl4P, sig: angptl4Sig, pY: angptl4PY, ticks: angptl4Ticks, domain: angptl4Domain, fmt: ".1f",
  l: 251, r: 964, t: 2294, b: 2645, ylx: 189, leg: [270, 2306], tfs: 38 });
tissueChart({ gene: "CACNG6", good: cacng6Good, poor: cacng6Poor, boxGood: cacng6BoxGood, boxPoor: cacng6BoxPoor,
  pText: cacng6P, sig: cacng6Sig, pY: cacng6PY, ticks: cacng6Ticks, domain: cacng6Domain, fmt: ".3f",
  l: 1153, r: 1847, t: 2294, b: 2645, ylx: 1072, leg: [1410, 2306], tfs: 38 });
</script>
</body>
</html>
